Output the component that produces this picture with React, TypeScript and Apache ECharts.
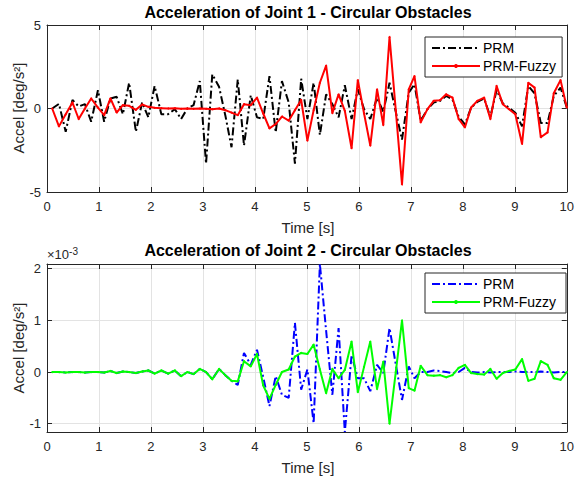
import React, { useEffect, useRef } from "react";
import * as echarts from "echarts";

// Sample times [s] shared by all series
const times = [
  0.1, 0.23, 0.36, 0.49, 0.61, 0.73, 0.85, 0.98, 1.1, 1.22, 1.34, 1.46, 1.58, 1.71, 1.83, 1.95,
  2.07, 2.2, 2.33, 2.46, 2.58, 2.7, 2.82, 2.94, 3.06, 3.18, 3.31, 3.43, 3.55, 3.67, 3.79, 3.92,
  4.04, 4.16, 4.28, 4.4, 4.52, 4.65, 4.77, 4.89, 5.01, 5.13, 5.25, 5.37, 5.49, 5.61, 5.73, 5.86,
  5.98, 6.1, 6.22, 6.35, 6.47, 6.59, 6.71, 6.83, 6.96, 7.07, 7.19, 7.32, 7.44, 7.56, 7.68, 7.8,
  7.92, 8.04, 8.16, 8.28, 8.41, 8.53, 8.65, 8.77, 8.89, 9.01, 9.14, 9.26, 9.38, 9.5, 9.63, 9.75,
  9.88, 10.0,
];

// Joint 1 acceleration [deg/s^2]
const joint1PRM = [
  0, 0.28, -1.39, 0.51, 0.12, 0.26, -0.79, 1.09, -0.79, 0.6, 0.7, -0.34, 1.54, -1.39, 0.36, -0.53,
  1.35, -0.34, -0.34, -0.04, -0.63, 0.0, 0.2, 1.64, -3.3, 2.04, 1.3, -0.4, -2.32, 1.74, -2.22, 0.79,
  -0.53, -0.63, 1.94, -1.43, 1.64, 0.36, -3.3, 1.78, -0.63, 1.54, -1.58, 0.85, 0.26, -0.53, 1.39, -0.63,
  1.15, -0.04, -0.63, 0.65, -0.2, 1.54, -0.2, -1.86, 0.95, 1.45, -0.73, -0.04, 0.35, 0.45, 0.75, 0.55,
  -0.5, -0.95, 0.05, 0.4, 0.6, -0.5, 1.1, 0.3, 0.05, -0.25, -1.07, 1.35, 0.9, -0.87, -0.87, 0.75,
  1.25, 0.06,
];
const joint1Fuzzy = [
  0, -1.07, -0.35, 0.36, -0.63, 0.0, 0.6, 0.05, -0.4, 0.61, -0.24, 0.2, 0.16, -0.08, 0.24, 0.1,
  0.04, 0.02, 0.0, 0.02, -0.02, 0.0, -0.02, 0.0, -0.02, -0.04, 0.0, -0.1, -0.25, -0.4, 0.26, 0.2,
  0.65, -0.3, -1.19, -0.93, -0.48, -0.73, -0.1, 0.51, -1.92, -0.1, 1.54, 2.57, -0.28, 0.85, -0.14, -2.38,
  1.7, -0.3, -2.22, 1.15, -0.99, 4.28, -0.1, -4.55, 1.15, 1.94, -0.83, -0.04, 0.46, 0.5, 0.85, 0.65,
  -0.63, -1.13, 0.06, 0.46, 0.65, -0.63, 1.35, 0.26, -0.04, -0.34, -2.12, 1.54, 1.25, -1.72, -1.43, 0.91,
  1.7, 0.06,
];

// Joint 2 acceleration, in units of 1e-3 deg/s^2
const joint2PRM = [
  0, 0, -0.01, 0, 0, -0.01, 0, 0, -0.01, 0.02, -0.02, 0.01, 0, -0.02, 0.01, 0.03,
  -0.03, 0.03, -0.03, 0.03, -0.08, 0.0, -0.04, 0.06, 0.0, -0.14, 0.06, -0.06, -0.17, -0.25, 0.37, 0.14,
  0.43, -0.1, -0.66, -0.08, -0.44, -0.5, 0.95, -0.34, 0.05, -0.99, 2.09, 0.8, -0.44, 0.85, -1.16, 0.33,
  -0.12, -0.12, -0.37, 0.14, -0.02, 0.85, 0.15, -0.54, 0.11, -0.12, 0.0, 0.0, 0.03, 0.02, 0.0, -0.02,
  0.0, 0.08, 0.0, -0.01, 0.0, -0.01, 0.0, 0.0, 0.0, 0.01, 0.0, 0.0, 0.0, 0.01, 0.0, -0.01,
  0.0, 0,
];
const joint2Fuzzy = [
  0, 0, -0.01, 0, 0, -0.01, 0, 0, -0.01, 0.02, -0.02, 0.01, 0, -0.02, 0.01, 0.03,
  -0.03, 0.03, -0.03, 0.03, -0.08, 0.0, -0.04, 0.06, 0.0, -0.14, 0.06, -0.06, -0.17, -0.18, 0.21, 0.11,
  0.35, -0.26, -0.52, -0.25, 0.0, 0.05, 0.3, 0.37, 0.35, 0.53, 0.05, -0.41, 0.06, -0.12, 0.04, 0.59,
  -0.39, 0.1, 0.59, -0.33, 0.2, -1.0, 0.0, 1.0, -0.31, -0.36, 0.12, -0.06, -0.07, -0.06, -0.1, -0.06,
  0.08, 0.14, -0.02, -0.04, -0.05, 0.06, -0.13, -0.02, 0.02, 0.05, 0.25, -0.17, -0.13, 0.21, 0.14, -0.12,
  -0.15, 0,
];

const xTicks = [0, 10, 1];
const y1Range = [-5, 5, 5];
const y2Range = [-1.16, 2.09];

const FONT = "Liberation Sans, Arial, Helvetica, sans-serif";
const AX = "#262626";
const GRIDC = "#e3e3e3";

function pairs(vals: number[]) {
  return times.map((t, i) => [t, vals[i]]);
}

export default function App() {
  const ref = useRef<HTMLDivElement>(null);
  useEffect(() => {
    if (!ref.current) return;
    const chart = echarts.init(ref.current, undefined, { renderer: "svg" });
    const grids = [
      { left: 47, top: 25, width: 522, height: 167 },
      { left: 47, top: 264, width: 522, height: 168 },
    ];
    const baseX = (gi: number, pos: "bottom" | "top") => ({
      type: "value",
      gridIndex: gi,
      position: pos,
      min: xTicks[0],
      max: xTicks[1],
      interval: xTicks[2],
      axisLine: { show: true, onZero: false, lineStyle: { color: AX, width: 1 } },
      axisTick: { show: true, inside: true, length: 5, lineStyle: { color: AX } },
      axisLabel: {
        show: pos === "bottom",
        color: AX,
        fontSize: 13,
        fontFamily: FONT,
        margin: 8,
      },
      splitLine: { show: pos === "bottom", lineStyle: { color: GRIDC, width: 1 } },
    });
    const baseY = (gi: number, pos: "left" | "right") => {
      const common: any = {
        type: "value",
        gridIndex: gi,
        position: pos,
        axisLine: { show: true, onZero: false, lineStyle: { color: AX, width: 1 } },
        axisTick: { show: true, inside: true, length: 5, lineStyle: { color: AX } },
        axisLabel: {
          show: pos === "left",
          color: AX,
          fontSize: 13,
          fontFamily: FONT,
          margin: 6,
          showMinLabel: gi === 0,
          showMaxLabel: gi === 0,
        },
        splitLine: { show: pos === "left", lineStyle: { color: GRIDC, width: 1 } },
      };
      if (gi === 0) {
        common.min = y1Range[0];
        common.max = y1Range[1];
        common.interval = y1Range[2];
      } else {
        common.min = y2Range[0];
        common.max = y2Range[1];
        common.splitNumber = 3;
      }
      return common;
    };
    const legendBase = {
      orient: "vertical",
      itemWidth: 48,
      itemHeight: 5,
      itemGap: 4,
      borderColor: AX,
      borderWidth: 1,
      backgroundColor: "#fff",
      padding: [4, 6, 4, 6],
      textStyle: { fontFamily: FONT, fontSize: 14, color: "#000", padding: [0, 0, 0, -2] },
    };
    const option: any = {
      animation: false,
      backgroundColor: "#fff",
      grid: grids,
      xAxis: [baseX(0, "bottom"), baseX(0, "top"), baseX(1, "bottom"), baseX(1, "top")],
      yAxis: [baseY(0, "left"), baseY(0, "right"), baseY(1, "left"), baseY(1, "right")],
      legend: [
        {
          ...legendBase,
          data: [{ name: "PRM", itemStyle: { opacity: 0 } }, { name: "PRM-Fuzzy" }],
          left: 425,
          top: 37,
        },
        {
          ...legendBase,
          data: [{ name: "PRM ", itemStyle: { opacity: 0 } }, { name: "PRM-Fuzzy " }],
          left: 425,
          top: 273,
        },
      ],
      series: [
        {
          name: "PRM",
          type: "line",
          xAxisIndex: 0,
          yAxisIndex: 0,
          data: pairs(joint1PRM),
          showSymbol: false,
          symbol: "none",
          lineStyle: { color: "#000", width: 2, type: [8, 3, 2, 3] },
          itemStyle: { color: "#000" },
          z: 2,
        },
        {
          name: "PRM-Fuzzy",
          type: "line",
          xAxisIndex: 0,
          yAxisIndex: 0,
          data: pairs(joint1Fuzzy),
          symbol: "circle",
          symbolSize: 2,
          showSymbol: true,
          lineStyle: { color: "#ff0000", width: 2 },
          itemStyle: { color: "#ff0000" },
          z: 3,
        },
        {
          name: "PRM ",
          type: "line",
          xAxisIndex: 2,
          yAxisIndex: 2,
          data: pairs(joint2PRM),
          showSymbol: false,
          symbol: "none",
          lineStyle: { color: "#0000ff", width: 2, type: [8, 3, 2, 3] },
          itemStyle: { color: "#0000ff" },
          z: 2,
        },
        {
          name: "PRM-Fuzzy ",
          type: "line",
          xAxisIndex: 2,
          yAxisIndex: 2,
          data: pairs(joint2Fuzzy),
          symbol: "circle",
          symbolSize: 2,
          showSymbol: true,
          lineStyle: { color: "#00ff00", width: 2 },
          itemStyle: { color: "#00ff00" },
          z: 3,
        },
      ],
      graphic: [
        {
          type: "text",
          x: 308,
          y: 12,
          style: {
            text: "Acceleration of Joint 1 - Circular Obstacles",
            font: `bold 16px ${FONT}`,
            fill: "#000",
            textAlign: "center",
            textVerticalAlign: "middle",
          },
        },
        {
          type: "text",
          x: 308,
          y: 250,
          style: {
            text: "Acceleration of Joint 2 - Circular Obstacles",
            font: `bold 16px ${FONT}`,
            fill: "#000",
            textAlign: "center",
            textVerticalAlign: "middle",
          },
        },
        {
          type: "text",
          x: 308,
          y: 227,
          style: {
            text: "Time [s]",
            font: `15px ${FONT}`,
            fill: AX,
            textAlign: "center",
            textVerticalAlign: "middle",
          },
        },
        {
          type: "text",
          x: 308,
          y: 467,
          style: {
            text: "Time [s]",
            font: `15px ${FONT}`,
            fill: AX,
            textAlign: "center",
            textVerticalAlign: "middle",
          },
        },
        {
          type: "text",
          x: 18,
          y: 108,
          rotation: Math.PI / 2,
          style: {
            text: "Accel [deg/s²]",
            font: `15px ${FONT}`,
            fill: AX,
            textAlign: "center",
            textVerticalAlign: "middle",
          },
        },
        {
          type: "text",
          x: 18,
          y: 348,
          rotation: Math.PI / 2,
          style: {
            text: "Accel [deg/s²]",
            font: `15px ${FONT}`,
            fill: AX,
            textAlign: "center",
            textVerticalAlign: "middle",
          },
        },
        {
          type: "text",
          x: 47,
          y: 254,
          style: {
            text: "×10{sup|-3}",
            font: `13px ${FONT}`,
            fill: AX,
            textAlign: "left",
            textVerticalAlign: "middle",
            rich: {
              sup: { fontSize: 10, fontFamily: FONT, fill: AX, verticalAlign: "top", padding: [0, 0, 6, 0] },
            },
          },
        },
      ],
    };
    chart.setOption(option);
    return () => chart.dispose();
  }, []);
  return (
    <div
      ref={ref}
      style={{ position: "fixed", left: 0, top: 0, width: 577, height: 481, background: "#fff" }}
    />
  );
}
